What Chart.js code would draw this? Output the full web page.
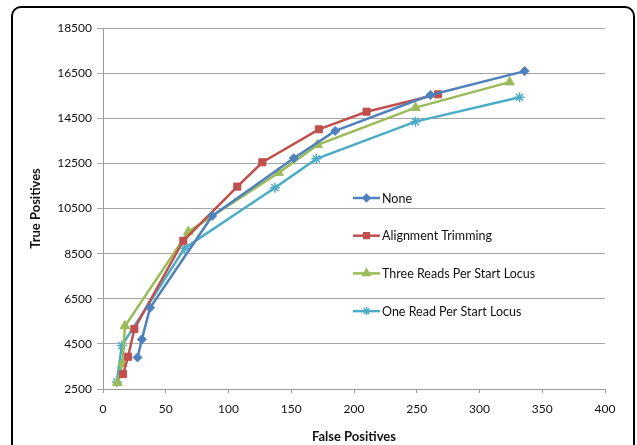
<!DOCTYPE html>
<html>
<head>
<meta charset="utf-8">
<script src="https://cdn.jsdelivr.net/npm/chart.js@4"></script>
<style>
  html, body { margin: 0; padding: 0; background: #fff; overflow: hidden; }
  #frame {
    position: absolute; left: 11px; top: 6px; width: 624px; height: 470px;
    border: 2px solid #000; border-radius: 10px; box-sizing: border-box;
  }
  #wrap { position: absolute; left: 0; top: 0; width: 637px; height: 445px; }
</style>
</head>
<body>
<div id="frame"></div>
<div id="wrap"><canvas id="chart" width="637" height="445"></canvas></div>
<script>
// ---- datos ----
const seriesNames = ['None', 'Alignment Trimming', 'Three Reads Per Start Locus', 'One Read Per Start Locus'];

const noneFP = [27.5, 31, 37.5, 87, 152, 185, 261, 336];
const noneTP = [3900, 4700, 6100, 10170, 12730, 13940, 15530, 16590];

const trimFP = [16, 20, 25, 64, 107, 127, 172, 210, 267];
const trimTP = [3160, 3930, 5160, 9070, 11470, 12550, 14010, 14790, 15560];

const threeFP = [11.5, 15.5, 17.5, 68, 140, 171, 249, 324];
const threeTP = [2780, 3640, 5290, 9470, 12090, 13320, 14970, 16100];

const oneFP = [11, 15, 65, 137, 170, 249, 332];
const oneTP = [2810, 4430, 8740, 11420, 12700, 14350, 15430];

const xTicks = [0, 50, 100, 150, 200, 250, 300, 350, 400];
const yTicks = [2500, 4500, 6500, 8500, 10500, 12500, 14500, 16500, 18500];

const colors = ['#4F81BD', '#C0504D', '#9BBB59', '#4BACC6'];
const markers = ['rectRot', 'rect', 'triangle', 'star'];
const markerSize = [4.5, 5, 5.5, 5];

const toPoints = (xs, ys) => xs.map((x, i) => ({ x: x, y: ys[i] }));
const allFP = [noneFP, trimFP, threeFP, oneFP];
const allTP = [noneTP, trimTP, threeTP, oneTP];

const FONT = 'Lato, "Open Sans", sans-serif';

// leyenda dentro del area del grafico
const insideLegend = {
  id: 'insideLegend',
  afterDraw(chart) {
    const ctx = chart.ctx;
    const area = chart.chartArea;
    const x0 = area.left + 250;
    const y0 = area.top + 170;
    ctx.save();
    chart.data.datasets.forEach((ds, i) => {
      const y = y0 + i * 37.7;
      ctx.strokeStyle = ds.borderColor;
      ctx.lineWidth = 2.5;
      ctx.beginPath();
      ctx.moveTo(x0, y);
      ctx.lineTo(x0 + 27, y);
      ctx.stroke();
      ctx.fillStyle = ds.borderColor;
      ctx.strokeStyle = ds.borderColor;
      ctx.lineWidth = 1.5;
      Chart.helpers.drawPoint(ctx, {
        pointStyle: ds.pointStyle,
        radius: ds.pointRadius * 0.8,
        rotation: 0,
        borderWidth: 1.5
      }, x0 + 13.5, y);
      ctx.fillStyle = '#111';
      ctx.font = '12.5px ' + FONT;
      ctx.textBaseline = 'middle';
      ctx.fillText(ds.label, x0 + 29, y + 0.5);
    });
    ctx.restore();
  }
};

const datasets = seriesNames.map((name, i) => ({
  label: name,
  data: toPoints(allFP[i], allTP[i]),
  borderColor: colors[i],
  backgroundColor: colors[i],
  pointStyle: markers[i],
  pointRadius: markerSize[i],
  pointBorderWidth: markers[i] === 'star' ? 1.5 : 1,
  borderWidth: 2.5,
  tension: 0,
  fill: false
}));

new Chart(document.getElementById('chart').getContext('2d'), {
  type: 'scatter',
  data: { datasets: datasets },
  options: {
    responsive: false,
    animation: false,
    showLine: true,
    layout: { padding: { left: 0, top: 28, right: 32, bottom: 0 } },
    plugins: {
      legend: { display: false },
      tooltip: { enabled: false }
    },
    scales: {
      x: {
        type: 'linear',
        min: xTicks[0],
        max: xTicks[xTicks.length - 1],
        afterBuildTicks: s => { s.ticks = xTicks.map(v => ({ value: v })); },
        afterFit: s => { s.height = 56; },
        grid: { drawOnChartArea: false, drawTicks: true, tickLength: 4, color: '#9a9a9a' },
        border: { color: '#9a9a9a', width: 1 },
        ticks: { color: '#111', font: { family: FONT, size: 12 }, padding: 9, maxRotation: 0,
                 callback: v => String(v) },
        title: {
          display: true, text: 'False Positives', color: '#111',
          font: { family: FONT, size: 13, weight: 'bold' }, padding: { top: 0, bottom: 0 }
        }
      },
      y: {
        type: 'linear',
        min: yTicks[0],
        max: yTicks[yTicks.length - 1],
        afterBuildTicks: s => { s.ticks = yTicks.map(v => ({ value: v })); },
        afterFit: s => { s.width = 103; },
        grid: { color: '#a6a6a6', lineWidth: 1, tickLength: 6 },
        border: { color: '#9a9a9a', width: 1 },
        ticks: { color: '#111', font: { family: FONT, size: 12 }, padding: 5,
                 callback: v => String(v) },
        title: {
          display: true, text: 'True Positives', color: '#111',
          font: { family: FONT, size: 13, weight: 'bold' }, padding: { top: 28, bottom: 0 }
        }
      }
    }
  },
  plugins: [insideLegend]
});
</script>
</body>
</html>
